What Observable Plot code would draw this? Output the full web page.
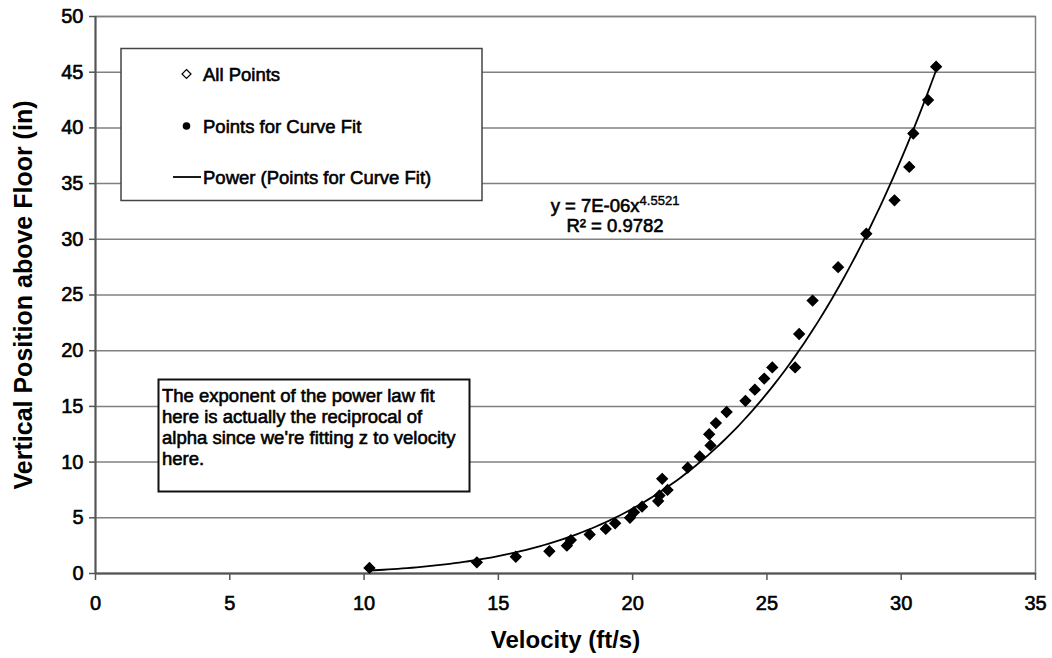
<!DOCTYPE html>
<html><head><meta charset="utf-8">
<script src="https://cdn.jsdelivr.net/npm/d3@7"></script>
<script src="https://cdn.jsdelivr.net/npm/@observablehq/plot@0.6"></script>
<style>body{margin:0;background:#fff} svg{display:block}</style>
</head><body><div id="chart"></div>
<script>
// ---- data ----
const velocity = [10.2,14.2,15.65,16.9,17.55,17.7,18.4,19.0,19.35,19.9,20.05,20.35,20.95,21.0,21.3,21.1,22.05,22.5,22.9,22.85,23.1,23.5,24.2,24.55,24.9,25.2,26.05,26.2,26.7,27.65,28.7,29.75,30.3,30.45,31.0,31.3];
const position = [0.5,1,1.5,2,2.5,3,3.5,4,4.5,5,5.5,6,6.5,7,7.5,8.5,9.5,10.5,11.5,12.5,13.5,14.5,15.5,16.5,17.5,18.5,18.5,21.5,24.5,27.5,30.5,33.5,36.5,39.5,42.5,45.5];
const xTicks = [0,5,10,15,20,25,30,35];
const yTicks = [0,5,10,15,20,25,30,35,40,45,50];
const legendLabels = ["All Points","Points for Curve Fit","Power (Points for Curve Fit)"];
const equationMain = "y = 7E-06x";
const equationExp = "4.5521";
const rSquaredText = "R\u00b2 = 0.9782";
const noteLines = ["The exponent of the power law fit","here is actually the reciprocal of","alpha since we're fitting z to velocity","here."];
const xTitle = "Velocity (ft/s)";
const yTitle = "Vertical Position above Floor (in)";

// ---- derived tables ----
const points = velocity.map((v,i)=>({v, z: position[i]}));
// power-law fit (log-log least squares) computed from the points
const lx = points.map(d=>Math.log(d.v)), ly = points.map(d=>Math.log(d.z));
const mx = d3.mean(lx), my = d3.mean(ly);
const b = d3.sum(lx.map((x,i)=>(x-mx)*(ly[i]-my))) / d3.sum(lx.map(x=>(x-mx)**2));
const a = Math.exp(my - b*mx);
const [vmin, vmax] = d3.extent(velocity);
const fit = d3.range(0,121).map(i=>{const v = vmin + (vmax-vmin)*i/120; return {v, z: a*Math.pow(v,b)};});

const FONT = "'Liberation Sans', Arial, sans-serif";
const TSW = 0.6;

function svgEl(context, tag){ return context.document.createElementNS("http://www.w3.org/2000/svg", tag); }

function addText(g, x, y, t, anchor){
  return g.append("text").attr("x",x).attr("y",y).attr("text-anchor",anchor||"start")
    .attr("fill","black").attr("stroke","black").attr("stroke-width",TSW).text(t);
}

function legendMark(index, scales, values, dims, context){
  const g = d3.select(svgEl(context,"g")).attr("font-family",FONT).attr("font-size",18.5);
  g.append("rect").attr("x",121).attr("y",48.5).attr("width",361).attr("height",152)
    .attr("fill","white").attr("stroke","#444").attr("stroke-width",1.5);
  const rows = [74,126,177];
  g.append("path").attr("d",`M186.5,${rows[0]-4.5}L191,${rows[0]}L186.5,${rows[0]+4.5}L182,${rows[0]}Z`)
    .attr("fill","white").attr("stroke","black").attr("stroke-width",1.2);
  g.append("circle").attr("cx",186.5).attr("cy",rows[1]).attr("r",3.8).attr("fill","black");
  g.append("line").attr("x1",173).attr("x2",201).attr("y1",rows[2]).attr("y2",rows[2]).attr("stroke","black").attr("stroke-width",1.8);
  legendLabels.forEach((t,i)=> addText(g, 203, rows[i]+6.5, t));
  return g.node();
}

function noteMark(index, scales, values, dims, context){
  const g = d3.select(svgEl(context,"g")).attr("font-family",FONT).attr("font-size",18.5);
  g.append("rect").attr("x",158.5).attr("y",379.5).attr("width",311).attr("height",112)
    .attr("fill","white").attr("stroke","#111").attr("stroke-width",2);
  noteLines.forEach((t,i)=> addText(g, 162, 401.5+i*21, t));
  const eq = addText(g, 615, 211.5, null, "middle");
  eq.append("tspan").text(equationMain);
  eq.append("tspan").attr("dy",-7).attr("font-size",13).attr("stroke-width",0.4).text(equationExp);
  addText(g, 615, 231.5, rSquaredText, "middle");
  return g.node();
}

const chart = Plot.plot({
  width: 1052, height: 658,
  marginLeft: 95, marginRight: 17, marginTop: 16, marginBottom: 85,
  style: {fontFamily: FONT, fontSize: "20px", color: "black", background: "white"},
  x: {domain: [0,35]},
  y: {domain: [0,50]},
  marks: [
    Plot.gridY(yTicks, {stroke: "#808080", strokeOpacity: 1, strokeWidth: 1.5}),
    Plot.frame({stroke: "#808080", strokeWidth: 1.5}),
    Plot.ruleX([0], {stroke: "#555", strokeWidth: 2}),
    Plot.ruleY([0], {stroke: "#555", strokeWidth: 2}),
    Plot.axisX({ticks: xTicks, tickSize: 7, tickPadding: 15, label: null, stroke: "#555", strokeWidth: 1.5, fontSize: 20, textStroke: "black", textStrokeWidth: TSW}),
    Plot.axisY({ticks: yTicks, tickSize: 6, tickPadding: 6, label: null, stroke: "#555", strokeWidth: 1.5, fontSize: 20, textStroke: "black", textStrokeWidth: TSW}),
    Plot.text([xTitle], {frameAnchor: "bottom", textAnchor: "middle", lineAnchor: "middle", dy: 67, fontWeight: "bold", fontSize: 24}),
    Plot.text([yTitle], {frameAnchor: "left", textAnchor: "middle", lineAnchor: "middle", dx: -72, rotate: -90, fontWeight: "bold", fontSize: 25}),
    legendMark,
    noteMark,
    Plot.dot(points, {x: "v", y: "z", symbol: "diamond2", r: 4.6, fill: "white", stroke: "black"}),
    Plot.line(fit, {x: "v", y: "z", stroke: "black", strokeWidth: 1.8}),
    Plot.dot(points, {x: "v", y: "z", symbol: "diamond2", r: 4.6, fill: "black", stroke: "black", strokeWidth: 0.5})
  ]
});
document.getElementById("chart").appendChild(chart);
</script>
</body></html>
